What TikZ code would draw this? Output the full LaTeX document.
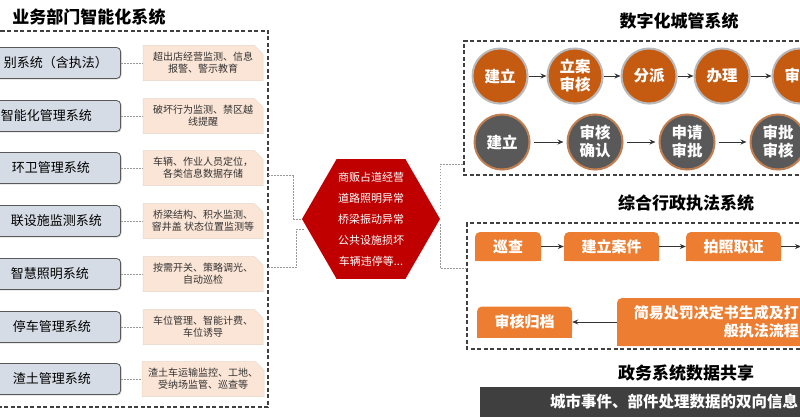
\documentclass[tikz,border=0pt]{standalone}
\usepackage{fontspec}
\setmainfont{Noto Sans CJK SC}
\usetikzlibrary{positioning,arrows.meta,shapes.misc,shapes.geometric,shadows}

\definecolor{hexred}{HTML}{C00000}
\definecolor{rust}{HTML}{C55A11}
\definecolor{tangerine}{HTML}{ED7D31}
\definecolor{slate}{HTML}{D6DCE5}
\definecolor{peach}{HTML}{FBE5D6}
\definecolor{coal}{HTML}{595959}
\definecolor{barfill}{HTML}{3F3F3F}

\tikzset{
  frame/.style={draw=black!75, line width=1.1pt, dash pattern=on 4pt off 2.5pt},
  link/.style={draw=black!40, line width=0.8pt, dash pattern=on 1.5pt off 1.5pt},
  flow/.style={draw=black!80, line width=0.9pt, -{Stealth[length=6pt,width=5pt]}},
  heading/.style={font=\fontsize{17}{20}\selectfont\bfseries, inner sep=0pt},
  sysbox/.style={rectangle, rounded corners=4pt, fill=slate, draw=coal, line width=0.8pt,
    minimum width=190pt, minimum height=31pt,
    drop shadow={opacity=0.25, shadow xshift=1pt, shadow yshift=-1pt}},
  systext/.style={font=\fontsize{13}{15}\selectfont, inner sep=0pt},
  note/.style={chamfered rectangle, chamfered rectangle corners=north east,
    chamfered rectangle xsep=5pt, fill=peach, draw=peach!85!gray, line width=0.5pt,
    minimum width=120pt, minimum height=35pt, inner sep=1pt, align=center,
    text=black!80, font=\fontsize{10}{12}\selectfont},
  hexa/.style={regular polygon, regular polygon sides=6, minimum size=138pt,
    inner sep=0pt, fill=hexred},
  hextext/.style={text=white, align=center, font=\fontsize{11}{21}\selectfont},
  stepA/.style={circle, minimum size=55pt, inner sep=0pt, fill=rust, draw=gray!55,
    line width=2pt, text=white, align=center, font=\fontsize{15.5}{18}\selectfont\bfseries,
    drop shadow={opacity=0.3, shadow xshift=1pt, shadow yshift=-1pt}},
  stepB/.style={stepA, fill=coal, draw=tangerine!60!gray},
  task/.style={rectangle, rounded corners=5pt, fill=tangerine, inner sep=0pt},
  tasktext/.style={text=white, inner sep=0pt, align=right, font=\fontsize{15}{18}\selectfont\bfseries},
  bar/.style={rectangle, fill=barfill, minimum height=30pt, minimum width=420pt, inner sep=0pt},
}

\begin{document}
\begin{tikzpicture}[x=1pt, y=-1pt]
  \useasboundingbox (0,0) rectangle (800,420);
  \clip (0,0) rectangle (800,420);

  % Left block: business systems
  \node[heading] (t1) at (89,17) {业务部门智能化系统};
  \draw[frame] (-6,31) -- (268,31) -- (268,407) -- (-6,407);
  \foreach \i/\y/\xe/\txt/\desc in {
    1/63/108/{别系统（含执法）}/{超出店经营监测、信息\\报警、警示教育},
    2/116/92/{智能化管理系统}/{破坏行为监测、禁区越\\线提醒},
    3/168/90/{环卫管理系统}/{车辆、作业人员定位，\\各类信息数据存储},
    4/221/102/{联设施监测系统}/{桥梁结构、积水监测、\\窨井盖 状态位置监测等},
    5/274/89/{智慧照明系统}/{按需开关、策略调光、\\自动巡检},
    6/327/91/{停车管理系统}/{车位管理、智能计费、\\车位诱导},
    7/379/91/{渣土管理系统}/{渣土车运输监控、工地、\\受纳场监管、巡查等}%
  } {
    \node[sysbox, anchor=east] (g\i) at (121,\y) {};
    \node[systext, anchor=east] (gt\i) at (\xe,\y) {\txt};
    \node[note] (p\i) at (203,\y) {\desc};
    \draw[link] (g\i.east) -- (p\i.west);
  }

  % Centre hexagon: events
  \node[hexa] (hx) at (371,219) {};
  \node[hextext] (hxt) at (hx.center) {商贩占道经营\\道路照明异常\\桥梁振动异常\\公共设施损坏\\车辆违停等...};
  \coordinate (lf1) at (268,175);
  \coordinate (lf2) at (268,267);
  \draw[link] (lf1) -| ([xshift=-8pt]hx.west) -- (hx.west);
  \draw[link] (lf2) -| ([xshift=-5pt,yshift=-10pt]hx.west) -- ([xshift=2pt,yshift=-10pt]hx.west);

  % Right top: digital city management
  \node[heading] (t2) at (679,21) {数字化城管系统};
  \draw[frame] (812,41) -- (464,41) -- (464,175) -- (812,175);
  \coordinate (rf1) at (464,164);
  \draw[link] ([yshift=10pt]hx.east) |- (rf1);
  \foreach \i/\x/\txt in {1/500/建立, 2/575/{立案\\审核}, 3/649/分派, 4/722/办理, 5/800/审核}
    \node[stepA] (o\i) at (\x,76) {\txt};
  \foreach \i/\j in {1/2, 2/3, 3/4, 4/5}
    \draw[flow] (o\i) -- (o\j);
  \foreach \i/\x/\txt in {1/502/建立, 2/595/{审核\\确认}, 3/687/{申请\\审批}, 4/778/{审批\\审核}}
    \node[stepB] (q\i) at (\x,142) {\txt};
  \foreach \i/\j in {1/2, 2/3, 3/4}
    \draw[flow, shorten <=3pt, shorten >=3pt] (q\i) -- (q\j);

  % Right middle: law enforcement (square lower corners)
  \node[heading] (t3) at (686,203) {综合行政执法系统};
  \draw[frame] (812,223) -- (467,223) -- (467,349) -- (812,349);
  \coordinate (rf2) at (467,268);
  \draw[link] ([yshift=-5pt]hx.east) |- (rf2);
  \foreach \n/\x/\y/\w/\h in {r1/508/246.5/66/29, r2/611.5/246.5/95/29, r3/733.5/246.5/95/29,
                            r4/524.5/322/95/31, r5/727/322/220/48} {
    \node[task, minimum width=\w pt, minimum height=\h pt] (\n) at (\x,\y) {};
    \fill[tangerine] (\n.west) rectangle (\n.south east);
  }
  \node[tasktext] (r1t) at (r1) {巡查};
  \node[tasktext] (r2t) at (r2) {建立案件};
  \node[tasktext] (r3t) at (r3) {拍照取证};
  \node[tasktext] (r4t) at (r4) {审核归档};
  \node[tasktext, anchor=east] (r5t) at (799,322) {简易处罚决定书生成及打\\般执法流程};
  \coordinate (out3) at (801,246.5);
  \draw[flow] (r1) -- (r2);
  \draw[flow] (r2) -- (r3);
  \draw[flow] (r3.east) -- (out3);
  \draw[flow] (r5.west) -- (r4.east);

  % Right bottom: data sharing
  \node[heading] (t4) at (686,373) {政务系统数据共享};
  \node[bar, anchor=north west] (bar) at (480,387) {};
  \node[text=white, anchor=west, inner sep=0pt, font=\fontsize{15.5}{18}\selectfont\bfseries] (bart) at (550,402) {城市事件、部件处理数据的双向信息};
\end{tikzpicture}
\end{document}
